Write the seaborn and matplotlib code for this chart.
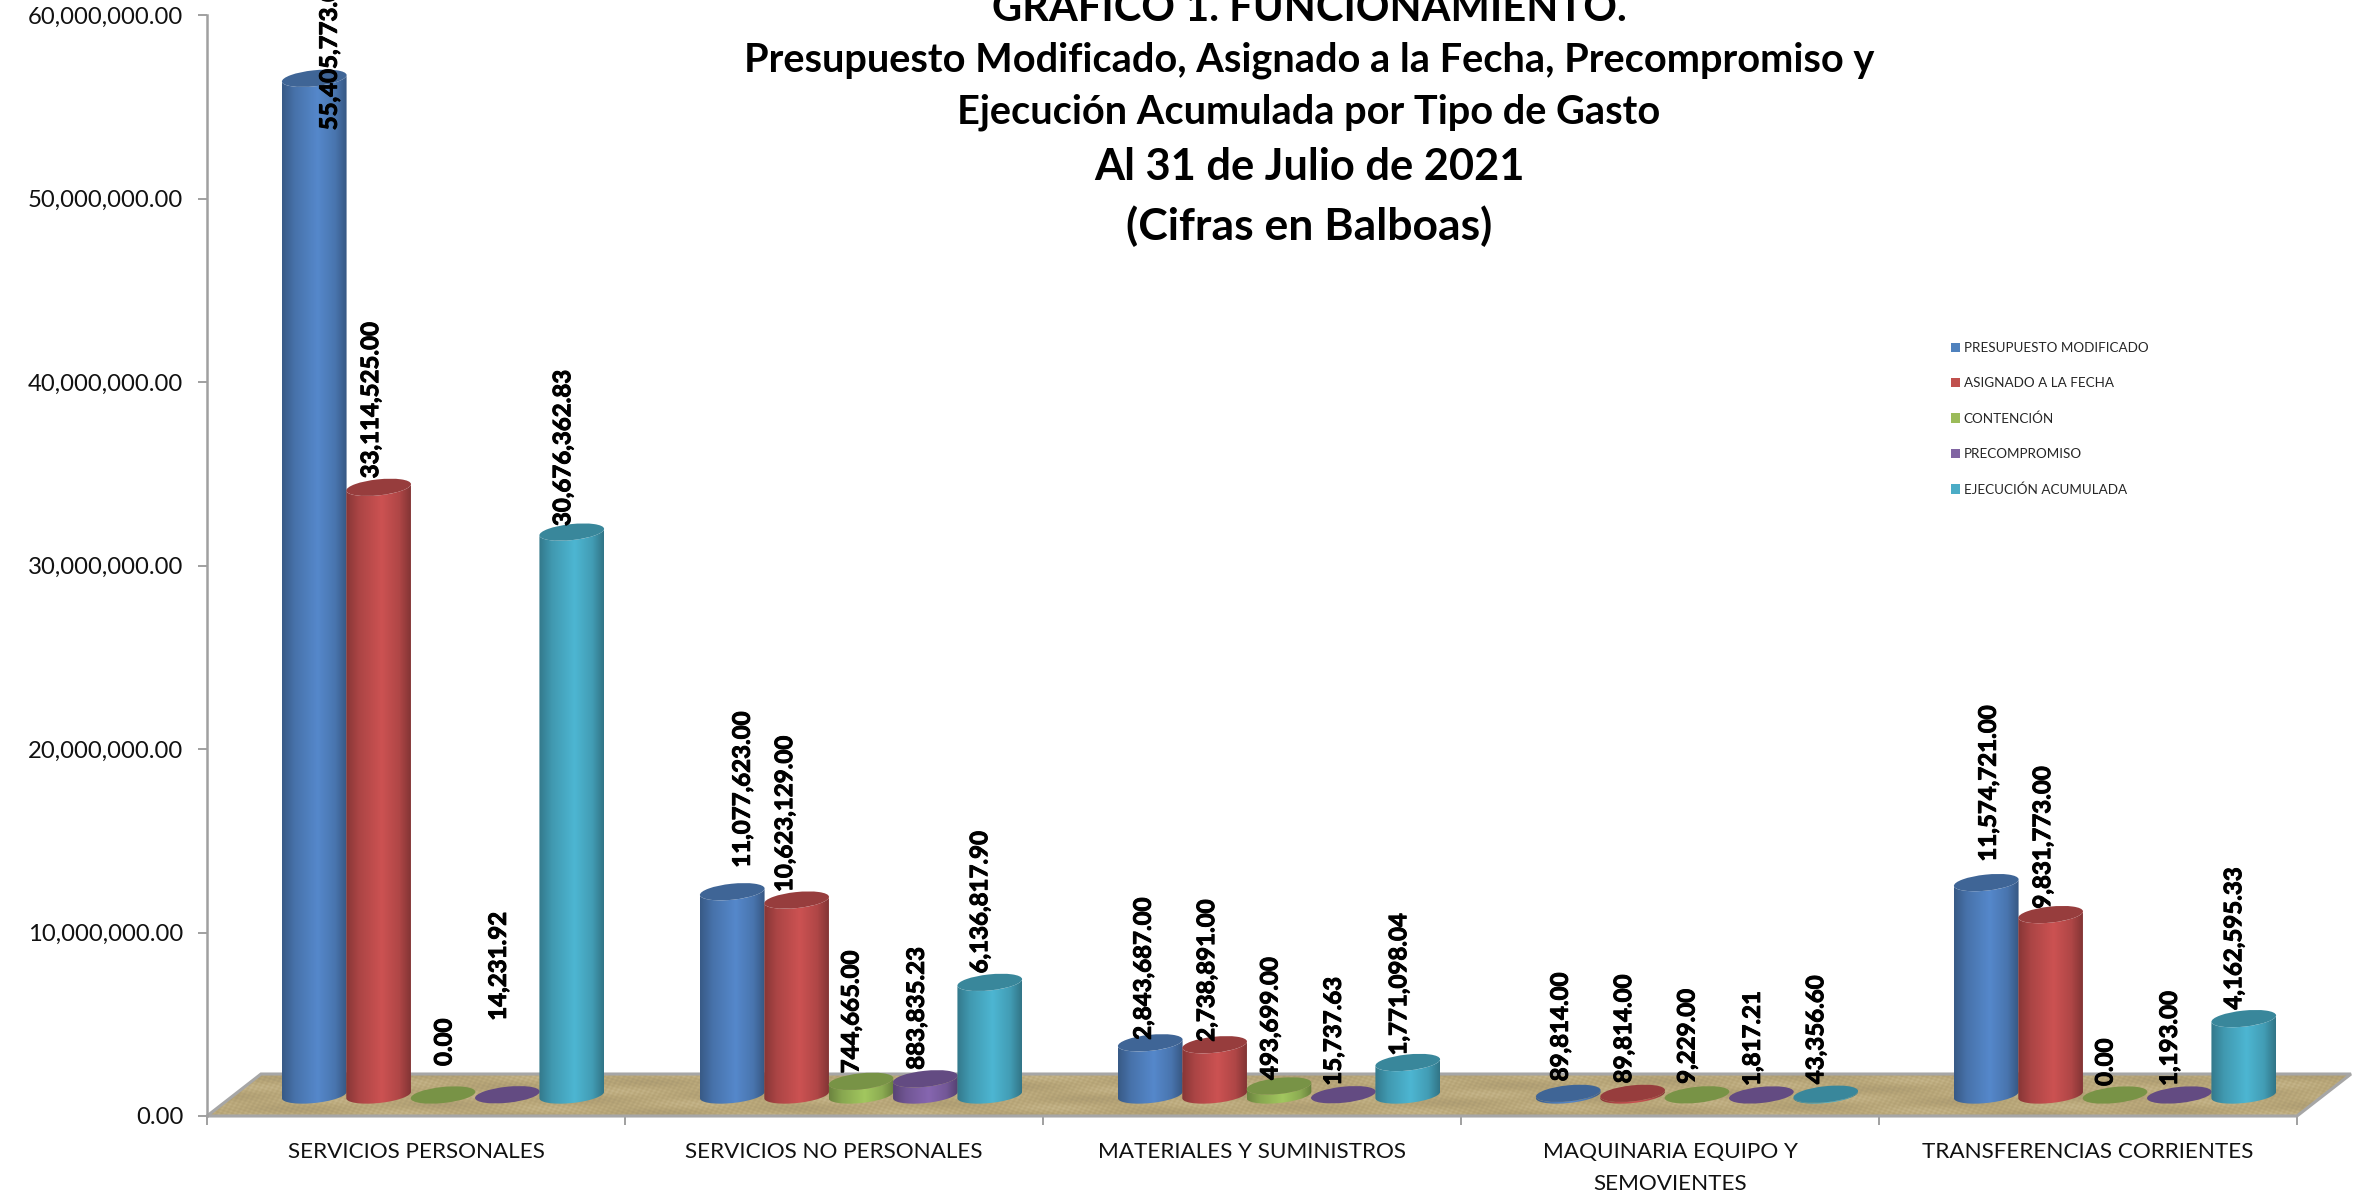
import numpy as np
import pandas as pd
import seaborn as sns
import matplotlib
matplotlib.use("Agg")
import matplotlib.pyplot as plt
import matplotlib.patheffects as pe
from matplotlib.colors import LinearSegmentedColormap, to_rgb
from matplotlib.patches import Ellipse, Patch, Polygon
from matplotlib.path import Path
from matplotlib.transforms import IdentityTransform

categories = ["SERVICIOS PERSONALES", "SERVICIOS NO PERSONALES", "MATERIALES Y SUMINISTROS",
              "MAQUINARIA EQUIPO Y\nSEMOVIENTES", "TRANSFERENCIAS CORRIENTES"]
series_names = ["PRESUPUESTO MODIFICADO", "ASIGNADO A LA FECHA", "CONTENCIÓN",
                "PRECOMPROMISO", "EJECUCIÓN ACUMULADA"]
presupuesto = [55405773.00, 11077623.00, 2843687.00, 89814.00, 11574721.00]
asignado = [33114525.00, 10623129.00, 2738891.00, 89814.00, 9831773.00]
contencion = [0.00, 744665.00, 493699.00, 9229.00, 0.00]
precompromiso = [14231.92, 883835.23, 15737.63, 1817.21, 1193.00]
ejecucion = [30676362.83, 6136817.90, 1771098.04, 43356.60, 4162595.33]
y_ticks = [0, 10000000, 20000000, 30000000, 40000000, 50000000, 60000000]
title_lines = ["GRAFICO 1. FUNCIONAMIENTO.",
               "Presupuesto Modificado, Asignado a la Fecha, Precompromiso y",
               "Ejecución Acumulada por Tipo de Gasto",
               "Al 31 de Julio de 2021",
               "(Cifras en Balboas)"]

# layout / style (pixels), separate from the data
W, H = 2371, 1199
AX_L, AX_R, AX_T, AX_B = 207, 2297, 15, 1116
DEPTH_X, DEPTH_Y = 54, 42
CAP_A, CAP_B, CAP_TILT = 32.5, 8.0, 6.0
colors = ["#5588CB", "#CC5252", "#A2C75F", "#8666B0", "#4DB6D2"]
legend_colors = ["#4F81BD", "#C0504D", "#9BBB59", "#8064A2", "#4BACC6"]
# label offset from each cap centre: (dx, up) per series, per category
label_dx = [[15, 10, -7, -8, 2], [-8, -12, -8, -9, -8], [1, -10, -9, -10, -10],
            [-9, -9, -10, -9, -10], [-9, -10, -9, -10, -10]]
label_up = [[-52, 24, 3, 12, 21], [9, 8, 3, 10, 6], [29, 8, 6, 11, 9],
            [74, 9, 9, 9, 9], [6, 9, 7, 10, 9]]
title_y = [9, 60, 112, 167, 226]
title_size = [30, 28.6, 28.6, 31.2, 32]

sns.set_style("white")
plt.rcParams["font.family"] = ["Lato", "DejaVu Sans"]

df = pd.DataFrame({
    "cat": categories * 5,
    "serie": np.repeat(series_names, 5),
    "valor": presupuesto + asignado + contencion + precompromiso + ejecucion,
})

fig = plt.figure(figsize=(W / 100, H / 100), dpi=100)
ax = fig.add_axes([AX_L / W, (H - AX_B) / H, (AX_R - AX_L) / W, (AX_B - AX_T) / H])
sns.barplot(data=df, x="cat", y="valor", hue="serie", order=categories, hue_order=series_names,
            palette=colors, width=0.77, gap=0, dodge=True, legend=False, ax=ax, linewidth=0, errorbar=None)
ax.set_xlim(-0.5, 4.5)
ax.set_ylim(0, 60000000)
ax.set_xlabel("")
ax.set_ylabel("")
ax.patch.set_alpha(0)

identity = IdentityTransform()

# floor: woven tan texture clipped to the parallelogram
x0, y0 = ax.transAxes.transform((0, 0))
x1, _ = ax.transAxes.transform((1, 0))
corners = np.array([(x0, y0), (x1, y0), (x1 + DEPTH_X, y0 + DEPTH_Y), (x0 + DEPTH_X, y0 + DEPTH_Y)])
gx, gy = np.meshgrid(np.arange(0, x1 - x0 + DEPTH_X), np.arange(0, DEPTH_Y + 1))
weave = (np.sin(gx * 0.9 + gy * 0.55) * np.sin(gy * 1.3 - gx * 0.31)
         + 0.6 * np.sin(gx * 0.037 + gy * 0.21) + 0.5 * np.sin(gx * 0.013 - gy * 0.4))
floor_cmap = LinearSegmentedColormap.from_list("floor", ["#A89871", "#B8A678", "#C8B88E"])
floor_im = ax.imshow(weave, cmap=floor_cmap, aspect="auto", origin="lower",
                     extent=(x0, x1 + DEPTH_X, y0, y0 + DEPTH_Y), transform=identity, zorder=1,
                     interpolation="bilinear")
floor_im.set_clip_box(fig.bbox)
floor_im.set_clip_path(Path(np.vstack([corners, corners[:1]])), identity)
ax.add_patch(Polygon(corners, closed=True, transform=identity, facecolor="none", edgecolor="#A6A6A6",
                     linewidth=2.2, zorder=1.5, clip_on=False))

rot = np.deg2rad(CAP_TILT)


def arc(cx, cy, t):
    ex, ey = CAP_A * np.cos(t), CAP_B * np.sin(t)
    return np.c_[cx + ex * np.cos(rot) - ey * np.sin(rot), cy + ex * np.sin(rot) + ey * np.cos(rot)]


thicken = [pe.withStroke(linewidth=0.7, foreground="black")]
z = 3.0
for s, cont in enumerate(ax.containers):
    base = np.array(to_rgb(colors[s]))
    cmap = LinearSegmentedColormap.from_list(
        "c%d" % s, [(0, base * 0.66), (0.2, base * 0.84), (0.55, base), (0.82, base * 0.86), (1, base * 0.64)])
    for c, bar in enumerate(cont.patches):
        bar.set_visible(False)
        xc = bar.get_x() + bar.get_width() / 2
        value = bar.get_height()
        px, py = ax.transData.transform((xc, value))
        _, pb = ax.transData.transform((xc, 0))
        px += DEPTH_X / 2
        py += DEPTH_Y / 2
        pb += DEPTH_Y / 2
        lower = arc(px, pb, np.linspace(np.pi, 2 * np.pi, 60))
        upper = arc(px, py, np.linspace(2 * np.pi, np.pi, 60))
        verts = np.vstack([lower, upper, lower[:1]])
        if value > 30000:
            im = ax.imshow(np.linspace(0, 1, 256).reshape(1, -1), cmap=cmap, aspect="auto",
                           extent=(verts[:, 0].min(), verts[:, 0].max(), verts[:, 1].min(), verts[:, 1].max()),
                           transform=identity, zorder=z, interpolation="bilinear")
            im.set_clip_path(Path(verts), identity)
        ax.add_patch(Ellipse((px, py), 2 * CAP_A, 2 * CAP_B, angle=CAP_TILT, transform=identity,
                             facecolor=base * 0.74, edgecolor="none", zorder=z + 0.1, clip_on=False))
        ax.annotate("{:,.2f}".format(value), xy=(xc, value), xycoords="data",
                    xytext=(DEPTH_X / 2 + label_dx[s][c], DEPTH_Y / 2 + label_up[s][c]),
                    textcoords="offset pixels", rotation=90, ha="center", va="bottom",
                    fontsize=17.3, fontweight="bold", color="black", zorder=20, annotation_clip=False,
                    path_effects=thicken)
        z += 0.2

# axes
for side in ["top", "right", "bottom"]:
    ax.spines[side].set_visible(False)
ax.spines["left"].set_color("#A0A0A0")
ax.spines["left"].set_linewidth(1.8)
ax.set_yticks(y_ticks)
ax.set_yticklabels(["{:,.2f}".format(v) for v in y_ticks], fontsize=17.2, color="#111111")
ax.tick_params(axis="y", left=True, length=6.5, width=1.4, color="#A0A0A0", pad=10.5)
ax.set_xticks(np.arange(-0.5, 5, 1))
ax.set_xticklabels([])
ax.set_xticks(np.arange(5), labels=categories, minor=True)
ax.tick_params(axis="x", which="major", bottom=True, length=6.5, width=1.4, color="#A0A0A0")
ax.tick_params(axis="x", which="minor", bottom=False, length=0, pad=19, labelsize=16.2, labelcolor="#111111")
for lab in ax.get_xticklabels(minor=True):
    lab.set_linespacing(1.7)

# title
for line, py, size in zip(title_lines, title_y, title_size):
    fig.text(1309 / W, 1 - py / H, line, ha="center", va="center", fontsize=size, fontweight="bold", color="black")

# legend
handles = [Patch(facecolor=col, edgecolor="none", label=name) for col, name in zip(legend_colors, series_names)]
fig.legend(handles=handles, loc="upper left", bbox_to_anchor=(1951 / W, 1 - 342 / H), bbox_transform=fig.transFigure,
           frameon=False, fontsize=9.7, handlelength=0.7, handleheight=0.7, handletextpad=0.25,
           labelspacing=1.72, borderpad=0, borderaxespad=0)

fig.savefig("out.png", dpi=100, facecolor="white")
